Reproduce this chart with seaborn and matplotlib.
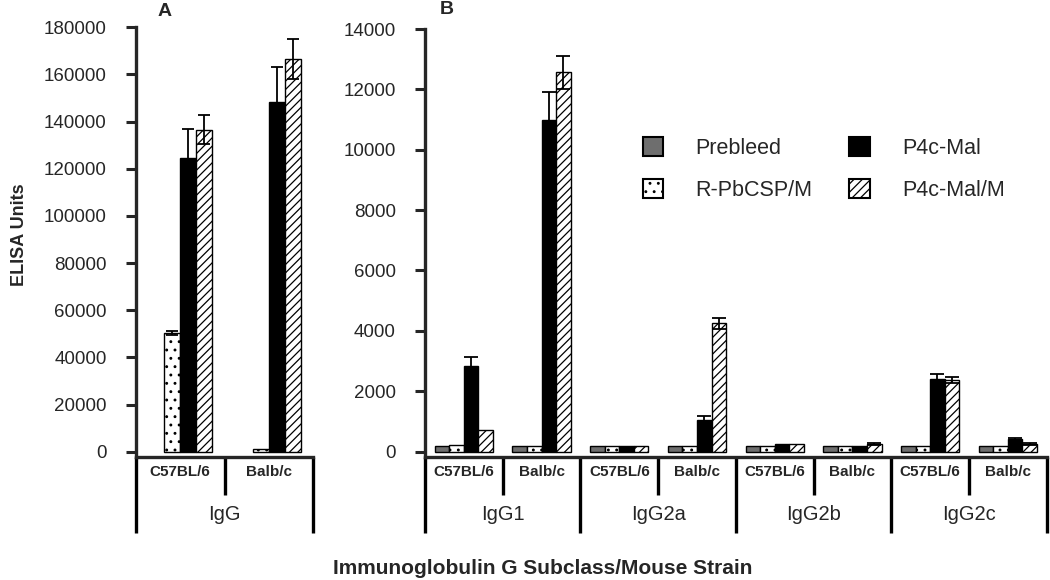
import numpy as np
import pandas as pd
import seaborn as sns
import matplotlib.pyplot as plt
from matplotlib.patches import Patch
from matplotlib.transforms import blended_transform_factory

# series (hue levels)
series = ['Prebleed', 'R-PbCSP/M', 'P4c-Mal', 'P4c-Mal/M']
strains = ['C57BL/6', 'Balb/c']
subclasses = ['IgG1', 'IgG2a', 'IgG2b', 'IgG2c']

# Panel A - total IgG, [C57BL/6, Balb/c]
a_prebleed = [0, 0]
a_rpbcsp = [50500, 1200]
a_p4c = [124600, 148500]
a_p4c_m = [136500, 166500]
a_rpbcsp_err = [800, 0]
a_p4c_err = [12300, 14500]
a_p4c_m_err = [6200, 8500]

# Panel B - IgG subclasses, C57BL/6 / Balb/c for IgG1, IgG2a, IgG2b, IgG2c
b_prebleed = [200, 200, 200, 200, 200, 200, 200, 200]
b_rpbcsp = [230, 200, 200, 200, 200, 200, 200, 200]
b_p4c = [2850, 10990, 200, 1050, 260, 200, 2420, 400]
b_p4c_m = [700, 12560, 200, 4250, 260, 250, 2380, 260]
b_p4c_err = [290, 930, 0, 120, 0, 0, 140, 40]
b_p4c_m_err = [0, 560, 0, 180, 0, 40, 100, 40]

colors = {'Prebleed': '#6e6e6e', 'R-PbCSP/M': 'white', 'P4c-Mal': 'black', 'P4c-Mal/M': 'white'}
hatches = {'Prebleed': '', 'R-PbCSP/M': '..', 'P4c-Mal': '', 'P4c-Mal/M': '////'}

sns.set_style('ticks')
plt.rcParams['font.family'] = ['Liberation Sans', 'DejaVu Sans']
plt.rcParams['hatch.linewidth'] = 0.9

W, H = 1050, 580
fig = plt.figure(figsize=(W / 100, H / 100), dpi=100)
axA = fig.add_axes([136 / W, 1 - 456.7 / H, 177 / W, (456.7 - 27.3) / H])
axB = fig.add_axes([425 / W, 1 - 456.7 / H, 621.7 / W, (456.7 - 29) / H])


def draw_panel(ax, cats, vals, errs, width, capsize):
    rows = []
    for s in series:
        for c, v in zip(cats, vals[s]):
            rows.append({'cat': c, 'series': s, 'val': v})
    df = pd.DataFrame(rows)
    sns.barplot(data=df, x='cat', y='val', hue='series', order=cats, hue_order=series,
                palette=colors, width=width, edgecolor='black', linewidth=1,
                saturation=1, errorbar=None, legend=False, ax=ax)
    for cont, s in zip(ax.containers, series):
        for bar, e in zip(cont, errs[s]):
            bar.set_hatch(hatches[s])
            if bar.get_height() == 0:
                bar.set_linewidth(0)
            if e > 0:
                ax.errorbar(bar.get_x() + bar.get_width() / 2, bar.get_height(), yerr=e,
                            fmt='none', ecolor='black', elinewidth=1.3,
                            capsize=capsize, capthick=1.3, zorder=5)
    ax.set_xlim(-0.5, len(cats) - 0.5)
    ax.set_xlabel('')
    ax.set_ylabel('')
    sns.despine(ax=ax)
    for side in ['left', 'bottom']:
        ax.spines[side].set_linewidth(2.4)
    ax.tick_params(axis='y', direction='out', length=7, width=2.2, pad=14, labelsize=13.5)
    ax.tick_params(axis='x', length=0, pad=6, labelsize=11)


# panel A
catsA = strains
valsA = {'Prebleed': a_prebleed, 'R-PbCSP/M': a_rpbcsp, 'P4c-Mal': a_p4c, 'P4c-Mal/M': a_p4c_m}
errsA = {'Prebleed': [0, 0], 'R-PbCSP/M': a_rpbcsp_err, 'P4c-Mal': a_p4c_err, 'P4c-Mal/M': a_p4c_m_err}
draw_panel(axA, catsA, valsA, errsA, 0.72, 4.5)
axA.set_ylim(-2120, 180000)
axA.set_yticks(np.arange(0, 180001, 20000))
axA.set_xticks(range(2))
axA.set_xticklabels(strains, fontweight='bold')

# panel B
catsB = [f'{g} {s}' for g in subclasses for s in strains]
valsB = {'Prebleed': b_prebleed, 'R-PbCSP/M': b_rpbcsp, 'P4c-Mal': b_p4c, 'P4c-Mal/M': b_p4c_m}
errsB = {'Prebleed': [0] * 8, 'R-PbCSP/M': [0] * 8, 'P4c-Mal': b_p4c_err, 'P4c-Mal/M': b_p4c_m_err}
draw_panel(axB, catsB, valsB, errsB, 0.75, 5)
axB.set_ylim(-170, 14000)
axB.set_yticks(np.arange(0, 14001, 2000))
axB.set_xticks(range(8))
axB.set_xticklabels(strains * 4, fontweight='bold')

# category boxes under the axes
y_axis = 1 - 456.7 / H
y_long = 1 - 533 / H
y_short = 1 - 495 / H
y_group = 1 - 515 / H
for ax, groups in [(axA, ['IgG']), (axB, subclasses)]:
    tr = blended_transform_factory(ax.transData, fig.transFigure)
    n = len(groups)
    for k in range(n + 1):
        ax.plot([2 * k - 0.5] * 2, [y_axis, y_long], color='black', lw=2.4,
                transform=tr, clip_on=False, solid_capstyle='butt')
    for k in range(n):
        ax.plot([2 * k + 0.5] * 2, [y_axis, y_short], color='black', lw=2.4,
                transform=tr, clip_on=False, solid_capstyle='butt')
        ax.text(2 * k + 0.5, y_group, groups[k], transform=tr, ha='center', va='center',
                fontsize=14.5)

# legend
handles = [Patch(facecolor=colors[s], edgecolor='black', hatch=hatches[s], linewidth=1.5, label=s)
           for s in series]
fig.legend(handles=handles, ncol=2, loc='upper left', bbox_to_anchor=(643 / W, 1 - 137 / H),
           bbox_transform=fig.transFigure, frameon=False, fontsize=15.5,
           handlelength=0.95, handleheight=0.95, handletextpad=1.5, columnspacing=1.7,
           labelspacing=0.95, borderpad=0, borderaxespad=0)

fig.text(165 / W, 1 - 11 / H, 'A', ha='center', va='center', fontsize=14, fontweight='bold')
fig.text(447 / W, 1 - 9 / H, 'B', ha='center', va='center', fontsize=14, fontweight='bold')
fig.text(20 / W, 1 - 235 / H, 'ELISA Units', rotation=90, ha='center', va='center',
         fontsize=13, fontweight='bold')
fig.text(543 / W, 1 - 568 / H, 'Immunoglobulin G Subclass/Mouse Strain', ha='center',
         va='center', fontsize=15, fontweight='bold')

fig.savefig('out.png', dpi=100)
